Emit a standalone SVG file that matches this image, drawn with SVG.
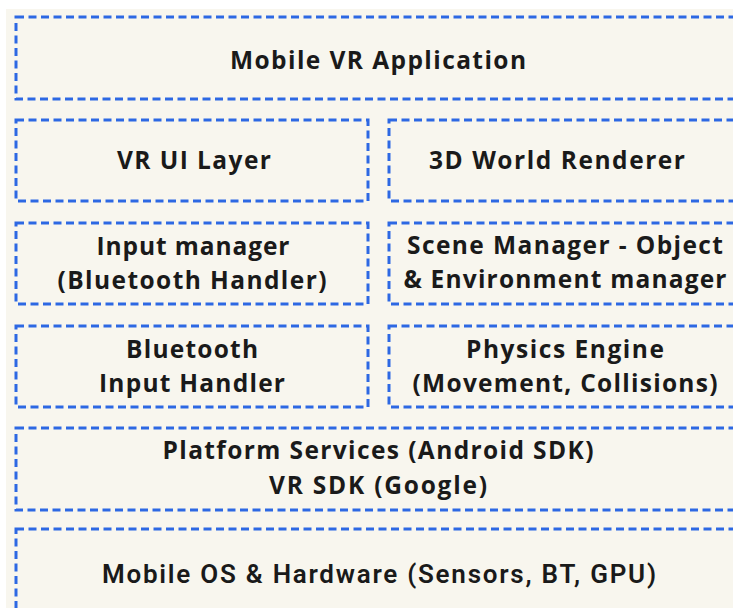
<svg xmlns="http://www.w3.org/2000/svg" width="733" height="608" viewBox="0 0 733 608">
<style>
.box{fill:none;stroke:#2d68e3;stroke-width:3;stroke-dasharray:8 4.5}
.t{font-family:"Open Sans","DejaVu Sans",sans-serif;font-weight:700;font-size:24.5px;fill:#1a1a1a;text-anchor:middle}
.c{font-family:"Roboto","Liberation Sans",sans-serif;font-weight:600;font-size:26px;fill:#1a1a1a;text-anchor:middle}
</style>
<rect x="0" y="0" width="733" height="608" fill="#ffffff"/>
<rect x="6" y="9" width="727" height="599" fill="#f8f6ee"/>
<g id="app"><rect class="box" x="16" y="17" width="725" height="82"/><text class="t" x="378" y="69" textLength="296">Mobile VR Application</text></g>
<g id="ui"><rect class="box" x="16" y="120" width="352" height="81"/><text class="t" x="194" y="169" textLength="154">VR UI Layer</text></g>
<g id="renderer"><rect class="box" x="389" y="120" width="352" height="81"/><text class="t" x="557" y="169" textLength="256">3D World Renderer</text></g>
<g id="input"><rect class="box" x="16" y="223" width="352" height="81"/><text class="t" x="193" y="255" textLength="193">Input manager</text><text class="t" x="192" y="289" textLength="269">(Bluetooth Handler)</text></g>
<g id="scene"><rect class="box" x="389" y="223" width="352" height="81"/><text class="t" x="565" y="254" textLength="316">Scene Manager - Object</text><text class="t" x="565" y="288" textLength="323">&amp; Environment manager</text></g>
<g id="bt"><rect class="box" x="16" y="326" width="352" height="81"/><text class="t" x="192" y="358" textLength="132">Bluetooth</text><text class="t" x="192" y="392" textLength="186">Input Handler</text></g>
<g id="physics"><rect class="box" x="389" y="326" width="352" height="81"/><text class="t" x="565" y="358" textLength="198">Physics Engine</text><text class="t" x="565" y="392" textLength="305">(Movement, Collisions)</text></g>
<g id="platform"><rect class="box" x="16" y="428" width="725" height="82"/><text class="t" x="378" y="459" textLength="431">Platform Services (Android SDK)</text><text class="t" x="378" y="494" textLength="218">VR SDK (Google)</text></g>
<g id="os"><rect class="box" x="16" y="529" width="725" height="90"/><text class="c" x="379" y="583" textLength="554">Mobile OS &amp; Hardware (Sensors, BT, GPU)</text></g>
<g id="connectors"></g>
</svg>
